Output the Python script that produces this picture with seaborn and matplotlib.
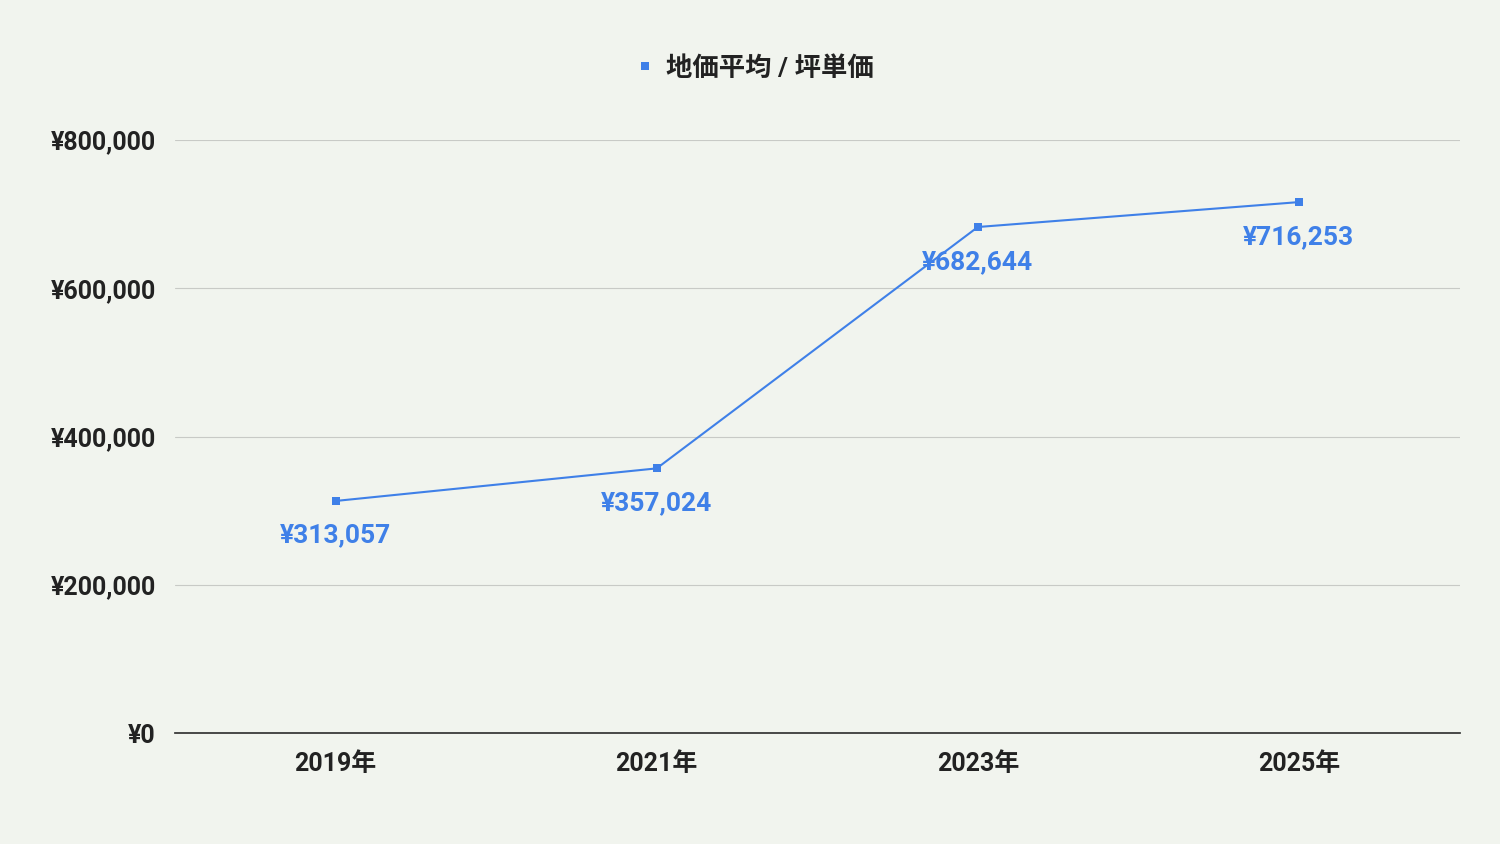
import matplotlib
matplotlib.use("Agg")
import matplotlib.pyplot as plt
import seaborn as sns
import pandas as pd

years = ["2019年", "2021年", "2023年", "2025年"]
values = [313057, 357024, 682644, 716253]
yticks = [0, 200000, 400000, 600000, 800000]
series_name = "地価平均 / 坪単価"

sns.set_theme(style="white")
plt.rcParams['font.family'] = ['Roboto', 'Noto Sans CJK JP', 'DejaVu Sans']
bg = "#f1f4ee"
color = "#3f80e8"

fig = plt.figure(figsize=(15, 8.44), dpi=100, facecolor=bg)
ax = fig.add_axes([0.1167, 0.1315, 0.8563, 0.7026])
ax.set_facecolor(bg)
df = pd.DataFrame({"year": years, "value": values})
df["x"] = range(len(years))
sns.lineplot(data=df, x="x", y="value", ax=ax, color=color, lw=1.5,
             marker="s", markersize=6, markeredgewidth=0, label=series_name, clip_on=False)
for xi, v in zip(df["x"], values):
    ax.annotate(f"¥{v:,}", (xi, v), xytext=(0, -25), textcoords="offset points",
                ha="center", va="center", color=color, fontsize=19, fontweight="bold")
ax.set_xlim(-0.5, 3.5)
ax.set_ylim(0, 800000)
ax.set_xticks(range(len(years)))
ax.set_xticklabels(years, fontsize=18, fontweight="bold", color="#222222")
ax.set_yticks(yticks)
ax.set_yticklabels([f"¥{t:,}" for t in yticks], fontsize=18, fontweight="bold", color="#222222")
ax.grid(axis="y", color="#c8cac6", lw=0.8)
for s in ["top", "right", "left"]:
    ax.spines[s].set_visible(False)
ax.spines["bottom"].set_color("#333333")
ax.tick_params(axis="both", length=0, pad=14)
ax.set_xlabel("")
ax.set_ylabel("")
leg = ax.legend(loc="lower center", bbox_to_anchor=(0.452, 1.06), frameon=False,
                prop={"size": 19, "weight": "bold"}, handlelength=0.6, handletextpad=0.5)
for h in leg.legend_handles:
    h.set_linestyle("")
for t in leg.get_texts():
    t.set_color("#222222")
fig.savefig("out.png", dpi=100, facecolor=bg)
